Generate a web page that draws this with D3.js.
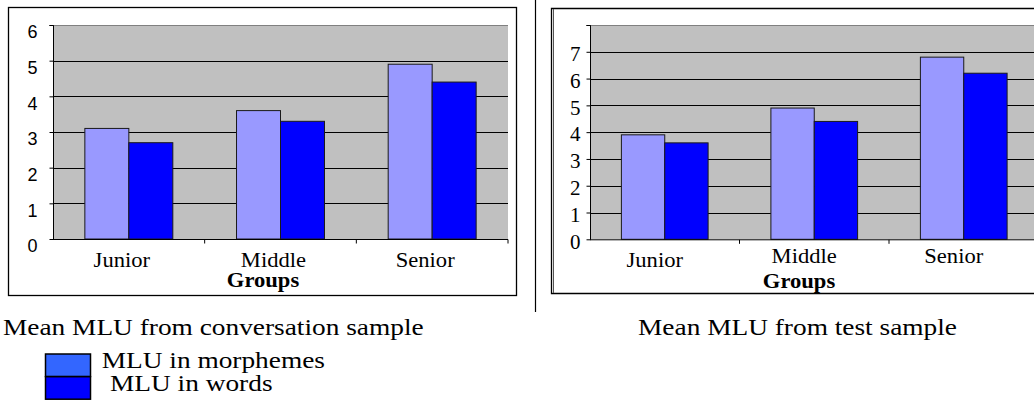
<!DOCTYPE html>
<html>
<head>
<meta charset="utf-8">
<script src="https://cdn.jsdelivr.net/npm/d3@7"></script>
<style>
  html, body { margin: 0; padding: 0; background: #fff; }
  svg { display: block; }
</style>
</head>
<body>
<svg id="chart" width="1034" height="405"></svg>
<script>
// ---- data ----
const categories = ["Junior", "Middle", "Senior"];
const seriesNames = ["MLU in morphemes", "MLU in words"];
const convMorphemes = [3.1, 3.6, 4.9];
const convWords = [2.7, 3.3, 4.4];
const testMorphemes = [3.9, 4.9, 6.8];
const testWords = [3.6, 4.4, 6.2];
const convTicks = [0, 1, 2, 3, 4, 5, 6];
const convTickLabels = ["0", "1", "2", "3", "4", "5", "6"];
const testTicks = [0, 1, 2, 3, 4, 5, 6, 7, 8];
const testTickLabels = ["0", "1", "2", "3", "4", "5", "6", "7", ""];
const axisTitle = "Groups";
const captions = ["Mean MLU from conversation sample", "Mean MLU from test sample"];

// ---- styles ----
const barColors = ["#9999FF", "#0000FF"];
const legendColors = ["#3366FF", "#0000FF"];
const plotBg = "#C0C0C0";
const serif = "'Liberation Serif', 'Times New Roman', serif";
const sans = "'Liberation Sans', Arial, sans-serif";
const SX = 1.13;

const svg = d3.select("#chart");
svg.append("rect").attr("width", 1034).attr("height", 405).attr("fill", "#fff");

function stext(parent, x, y, str, o = {}) {
  return parent.append("text")
    .attr("transform", `translate(${x},${y}) scale(${o.sx || SX},1)`)
    .attr("text-anchor", o.anchor || "start")
    .attr("font-family", o.family || serif)
    .attr("font-size", o.size || 20)
    .attr("font-weight", o.weight || "normal")
    .attr("fill", "#000")
    .text(str);
}

function drawChart(cfg) {
  const g = svg.append("g");
  const x = d3.scaleBand().domain(categories).range([cfg.x0, cfg.x1]).padding(0);
  const xs = d3.scaleBand().domain(seriesNames)
    .range([x.bandwidth() * 0.21, x.bandwidth() * 0.79]).padding(0);
  const y = d3.scaleLinear().domain([0, cfg.max]).range([cfg.yBot, cfg.yTop]);

  // plot area
  g.append("rect").attr("x", cfg.x0).attr("y", cfg.yTop)
    .attr("width", cfg.x1 - cfg.x0).attr("height", cfg.yBot - cfg.yTop)
    .attr("fill", plotBg);
  g.append("line").attr("x1", cfg.x0).attr("x2", cfg.x1)
    .attr("y1", y(cfg.max) + 0.5).attr("y2", y(cfg.max) + 0.5)
    .attr("stroke", "#808080").attr("stroke-width", 1.2);

  // gridlines
  g.selectAll(".grid").data(cfg.ticks.filter(t => t > 0 && t < cfg.max)).enter()
    .append("line")
    .attr("x1", cfg.x0).attr("x2", cfg.x1)
    .attr("y1", d => Math.round(y(d)) + 0.5).attr("y2", d => Math.round(y(d)) + 0.5)
    .attr("stroke", "#000").attr("stroke-width", 1);

  // bars
  const rows = categories.map((c, i) => ({ c, vals: [cfg.a[i], cfg.b[i]] }));
  const grp = g.selectAll(".grp").data(rows).enter().append("g")
    .attr("transform", d => `translate(${x(d.c)},0)`);
  grp.selectAll("rect").data(d => d.vals.map((v, j) => ({ v, s: seriesNames[j], j })))
    .enter().append("rect")
    .attr("x", d => xs(d.s))
    .attr("y", d => y(d.v))
    .attr("width", xs.bandwidth())
    .attr("height", d => y(0) - y(d.v))
    .attr("fill", d => barColors[d.j])
    .attr("stroke", "#1a1a1a").attr("stroke-width", 1);

  // y axis
  const yAxis = d3.axisLeft(y).tickValues(cfg.ticks).tickSize(4).tickPadding(cfg.tickPad)
    .tickFormat((d, i) => cfg.tickLabels[i]);
  const ya = g.append("g").attr("transform", `translate(${cfg.x0 + 0.5},0)`).call(yAxis);
  ya.select(".domain").attr("stroke", "#000").attr("d", `M-4,${cfg.yTop + 0.5}H0V${cfg.yBot + 0.5}`);
  ya.selectAll(".tick line").attr("stroke", "#000");
  ya.selectAll(".tick text").attr("font-family", cfg.labFamily).attr("font-size", cfg.labSize)
    .attr("fill", "#000").attr("dy", cfg.labDy);

  // x axis
  const xa = g.append("g").attr("transform", `translate(0,${cfg.yBot + 0.5})`);
  xa.append("line").attr("x1", cfg.x0).attr("x2", cfg.x1).attr("stroke", "#000");
  xa.selectAll(".xt").data(categories).enter().append("line")
    .attr("x1", d => x(d) + x.bandwidth()).attr("x2", d => x(d) + x.bandwidth())
    .attr("y1", 0).attr("y2", 4).attr("stroke", "#000");
  categories.forEach((c, i) => {
    stext(g, x(c) + x.bandwidth() / 2 + cfg.catDx, cfg.catY[i], c, { anchor: "middle", size: 20 });
  });
  stext(g, cfg.titleX, cfg.titleY, axisTitle, { anchor: "middle", size: 20, weight: "bold" });
}

// frames
svg.append("rect").attr("x", 8.5).attr("y", 7.5).attr("width", 508).attr("height", 288)
  .attr("fill", "none").attr("stroke", "#000").attr("stroke-width", 1.3);
svg.append("line").attr("x1", 535.5).attr("x2", 535.5).attr("y1", 0).attr("y2", 312)
  .attr("stroke", "#000").attr("stroke-width", 1.2);
svg.append("path").attr("d", "M1040,8.5H551.5V293.5H1040").attr("fill", "none")
  .attr("stroke", "#000").attr("stroke-width", 1.3);
svg.append("line").attr("x1", 553.5).attr("x2", 553.5).attr("y1", 9).attr("y2", 293)
  .attr("stroke", "#555").attr("stroke-width", 1);

drawChart({
  x0: 53, x1: 508, yTop: 25, yBot: 239, max: 6,
  ticks: convTicks, tickLabels: convTickLabels, a: convMorphemes, b: convWords,
  tickPad: 12, labFamily: sans, labSize: 18, labDy: "0.72em",
  catDx: -7, catY: [267, 267, 267], titleX: 263, titleY: 287
});
drawChart({
  x0: 590, x1: 1038.5, yTop: 25, yBot: 239.3, max: 8,
  ticks: testTicks, tickLabels: testTickLabels, a: testMorphemes, b: testWords,
  tickPad: 6, labFamily: serif, labSize: 21, labDy: "0.42em",
  catDx: -10, catY: [267, 263, 263], titleX: 799, titleY: 288
});

// captions
stext(svg, 3, 335, captions[0], { size: 24, sx: 1.14 });
stext(svg, 957, 335, captions[1], { size: 24, sx: 1.14, anchor: "end" });

// legend
const legY = [354, 376.7];
const legTextX = [101.7, 110];
const legTextY = [368, 390.7];
seriesNames.forEach((s, i) => {
  svg.append("rect").attr("x", 45.5).attr("y", legY[i]).attr("width", 45).attr("height", 22.5)
    .attr("fill", legendColors[i]).attr("stroke", "#000").attr("stroke-width", 1.5);
  stext(svg, legTextX[i], legTextY[i], s, { size: 24, sx: 1.14 });
});
</script>
</body>
</html>
